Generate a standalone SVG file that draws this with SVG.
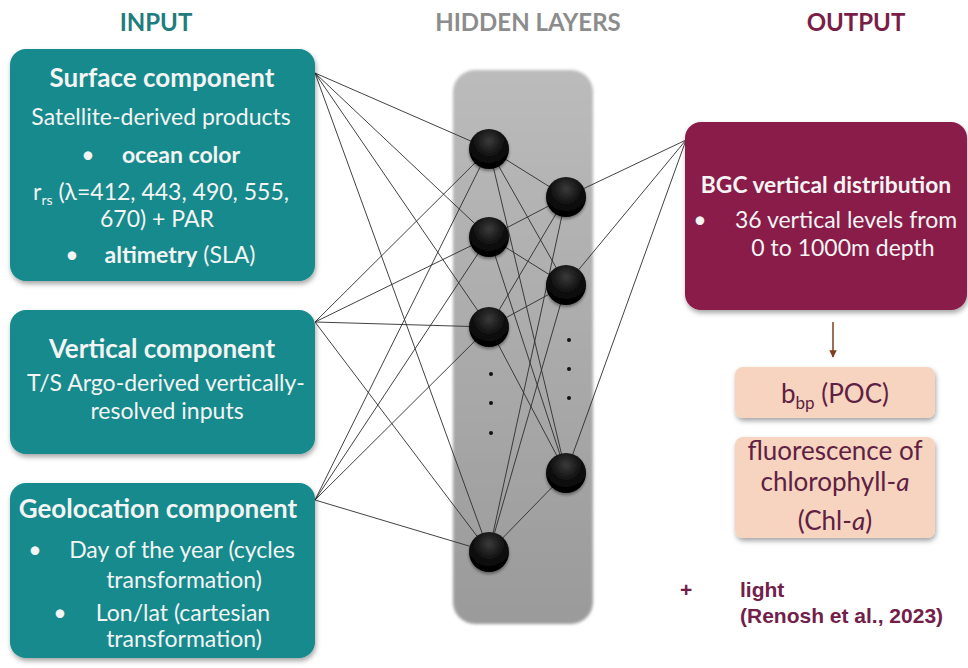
<svg xmlns="http://www.w3.org/2000/svg" width="968" height="668" viewBox="0 0 968 668">
<defs>
<style>
.t{font-family:Lato,"Open Sans","DejaVu Sans",sans-serif;}
.hd{font-size:24px;font-weight:bold;text-anchor:middle;}
.wt{fill:#f4f4f4;text-anchor:middle;}
.bt{font-size:26px;font-weight:bold;}
.bs{font-size:22.8px;font-weight:bold;}
.rt{font-size:23px;}
.pk{fill:#5e2143;font-size:26px;text-anchor:middle;}
.ln{stroke:#2e2e2e;stroke-width:0.9;fill:none;}
.ref{font-family:"Liberation Sans",Arial,sans-serif;font-weight:bold;font-size:21px;fill:#72204a;}
</style>
<filter id="sh" x="-10%" y="-10%" width="120%" height="125%">
<feDropShadow dx="1" dy="3" stdDeviation="2.5" flood-color="#000" flood-opacity="0.35"/>
</filter>
<filter id="nsh" x="-40%" y="-40%" width="180%" height="180%">
<feDropShadow dx="0" dy="2" stdDeviation="1.5" flood-color="#000" flood-opacity="0.4"/>
</filter>
<filter id="soft" x="-5%" y="-5%" width="110%" height="110%">
<feGaussianBlur stdDeviation="1.5"/>
</filter>
<linearGradient id="gp" x1="0" y1="0" x2="0" y2="1">
<stop offset="0" stop-color="#bbbbbb"/>
<stop offset="1" stop-color="#9a9a9a"/>
</linearGradient>
<radialGradient id="gn" cx="0.5" cy="0.3" r="0.7">
<stop offset="0" stop-color="#3a3a3a"/>
<stop offset="0.6" stop-color="#0c0c0c"/>
<stop offset="1" stop-color="#000"/>
</radialGradient>
<marker id="ar" viewBox="0 0 10 10" refX="9" refY="5" markerWidth="5" markerHeight="5" orient="auto">
<path d="M0,0 L10,5 L0,10 z" fill="#7e3f1c"/>
</marker>
</defs>
<rect width="968" height="668" fill="#fff"/>

<g id="titles" class="t">
<text x="156" y="31" class="hd" fill="#207d7e">INPUT</text>
<text x="528" y="31" class="hd" fill="#8c8c8c">HIDDEN LAYERS</text>
<text x="856" y="31" class="hd" fill="#7a1e47">OUTPUT</text>
</g>

<g id="hidden-panel">
<rect x="453" y="70" width="140" height="554" rx="22" fill="url(#gp)" filter="url(#soft)"/>
</g>

<g id="connectors" class="ln">
<!-- inputs to hidden layer 1 -->
<path d="M315,73 L489,149 M315,73 L489,237 M315,73 L489,327 M315,73 L489,552"/>
<path d="M315,322 L489,149 M315,322 L489,237 M315,322 L489,327 M315,322 L489,552"/>
<path d="M315,500 L489,149 M315,500 L489,237 M315,500 L489,327 M315,500 L489,552"/>
<!-- hidden layer 1 to hidden layer 2 -->
<path d="M489,149 L566,197 M489,149 L566,285 M489,149 L566,473"/>
<path d="M489,237 L566,197 M489,237 L566,285 M489,237 L566,473"/>
<path d="M489,327 L566,197 M489,327 L566,285 M489,327 L566,473"/>
<path d="M489,552 L566,197 M489,552 L566,285 M489,552 L566,473"/>
<!-- hidden layer 2 to output -->
<path d="M566,197 L686,140 M566,285 L686,140 M566,473 L686,140"/>
</g>

<g id="hidden-nodes" fill="url(#gn)" filter="url(#nsh)">
<circle id="h1a" cx="489" cy="149" r="20"/>
<circle id="h1b" cx="489" cy="237" r="20"/>
<circle id="h1c" cx="489" cy="327" r="20"/>
<circle id="h1d" cx="489" cy="552" r="20"/>
<circle id="h2a" cx="566" cy="197" r="20"/>
<circle id="h2b" cx="566" cy="285" r="20"/>
<circle id="h2c" cx="566" cy="473" r="20"/>
</g>
<g id="ellipsis" fill="#111">
<circle cx="491" cy="374" r="2"/><circle cx="491" cy="403" r="2"/><circle cx="491" cy="433" r="2"/>
<circle cx="569" cy="340" r="2"/><circle cx="569" cy="369" r="2"/><circle cx="569" cy="398" r="2"/>
</g>

<g id="surface" class="t">
<rect x="10" y="49" width="305" height="232" rx="16" fill="#138a8c" filter="url(#sh)"/>
<text x="162" y="87" class="wt bt">Surface component</text>
<text x="161" y="125" class="wt rt">Satellite-derived products</text>
<text x="88" y="163" class="wt rt">•</text>
<text x="181" y="163" class="wt rt" font-weight="bold">ocean color</text>
<text x="161" y="200" class="wt rt">r<tspan font-size="14" dy="5">rs</tspan><tspan dy="-5"> (λ=412, 443, 490, 555,</tspan></text>
<text x="157" y="227" class="wt rt">670) + PAR</text>
<text x="72" y="263" class="wt rt">•</text>
<text x="180" y="263" class="wt rt"><tspan font-weight="bold">altimetry</tspan> (SLA)</text>
</g>

<g id="vertical" class="t">
<rect x="10" y="310" width="305" height="144" rx="16" fill="#138a8c" filter="url(#sh)"/>
<text x="162" y="358" class="wt bt">Vertical component</text>
<text x="166" y="391" class="wt rt">T/S Argo-derived vertically-</text>
<text x="167" y="419" class="wt rt">resolved inputs</text>
</g>

<g id="geolocation" class="t">
<rect x="10" y="483" width="305" height="175" rx="16" fill="#138a8c" filter="url(#sh)"/>
<text x="158" y="518" class="wt bt">Geolocation component</text>
<text x="35" y="558" class="wt rt">•</text>
<text x="182" y="558" class="wt rt">Day of the year (cycles</text>
<text x="184" y="588" class="wt rt">transformation)</text>
<text x="60" y="621" class="wt rt">•</text>
<text x="183" y="621" class="wt rt">Lon/lat (cartesian</text>
<text x="184" y="647" class="wt rt">transformation)</text>
</g>

<g id="output" class="t">
<rect x="685" y="122" width="282" height="188" rx="16" fill="#8a1a4a" filter="url(#sh)"/>
<text x="826" y="193" class="wt bs">BGC vertical distribution</text>
<text x="700" y="228" class="wt rt">•</text>
<text x="846" y="228" class="wt rt">36 vertical levels from</text>
<text x="843" y="256" class="wt rt">0 to 1000m depth</text>
</g>

<g id="arrow">
<line x1="833" y1="322" x2="833" y2="357" stroke="#7e3f1c" stroke-width="1.5" marker-end="url(#ar)"/>
</g>

<g id="bbp" class="t">
<rect x="735" y="367" width="200" height="51" rx="8" fill="#f7d4bf" filter="url(#sh)"/>
<text x="835" y="403" class="pk">b<tspan font-size="17" dy="6">bp</tspan><tspan dy="-6"> (POC)</tspan></text>
</g>

<g id="chla" class="t">
<rect x="735" y="437" width="200" height="101" rx="8" fill="#f7d4bf" filter="url(#sh)"/>
<text x="835" y="460" class="pk">fluorescence of</text>
<text x="835" y="491" class="pk">chlorophyll-<tspan font-style="italic">a</tspan></text>
<text x="835" y="530" class="pk">(Chl-<tspan font-style="italic">a</tspan>)</text>
</g>

<g id="light-note">
<text x="680" y="597" class="ref">+</text>
<text x="740" y="597" class="ref">light</text>
<text x="740" y="623" class="ref">(Renosh et al., 2023)</text>
</g>
</svg>
